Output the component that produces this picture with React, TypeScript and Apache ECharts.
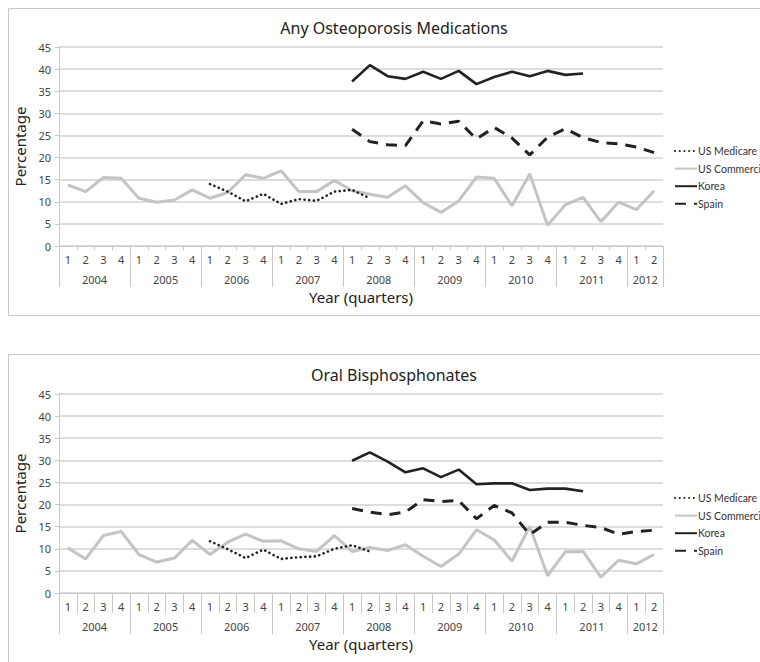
import React, { useEffect, useRef } from "react";
import * as echarts from "echarts";

const quarterLabels = [
  "1", "2", "3", "4", "1", "2", "3", "4", "1", "2", "3", "4",
  "1", "2", "3", "4", "1", "2", "3", "4", "1", "2", "3", "4",
  "1", "2", "3", "4", "1", "2", "3", "4", "1", "2",
];
const yearLabels = ["2004", "2005", "2006", "2007", "2008", "2009", "2010", "2011", "2012"];
const yearCenters = [2, 6, 10, 14, 18, 22, 26, 30, 33];
const yearBounds = [0, 4, 8, 12, 16, 20, 24, 28, 32, 34];

const seriesNames = ["US Medicare", "US Commercial", "Korea", "Spain"];
const panelTitles = ["Any Osteoporosis Medications", "Oral Bisphosphonates"];

const N = null;
// Any osteoporosis medications
const anyMedicare = [
  N, N, N, N, N, N, N, N,
  14.0, 12.3, 10.1, 11.8, 9.5, 10.6, 10.2, 12.3, 12.7, 10.8,
  N, N, N, N, N, N, N, N, N, N, N, N, N, N, N, N,
];
const anyCommercial = [
  13.8, 12.3, 15.5, 15.3, 10.8, 9.9, 10.4, 12.7, 10.8, 12.1, 16.1, 15.3,
  17.0, 12.3, 12.3, 14.8, 12.5, 11.7, 11.0, 13.6, 9.8, 7.6, 10.2, 15.6,
  15.3, 9.1, 16.3, 4.7, 9.3, 11.0, 5.5, 9.9, 8.2, 12.5,
];
const anyKorea = [
  N, N, N, N, N, N, N, N, N, N, N, N, N, N, N, N,
  37.2, 40.9, 38.4, 37.8, 39.4, 37.8, 39.6, 36.6, 38.2, 39.4, 38.4, 39.6, 38.7, 39.0,
  N, N, N, N,
];
const anySpain = [
  N, N, N, N, N, N, N, N, N, N, N, N, N, N, N, N,
  26.4, 23.6, 22.9, 22.7, 28.3, 27.6, 28.2, 24.2, 26.8, 24.4, 20.6, 24.6,
  26.5, 24.5, 23.4, 23.1, 22.4, 21.1,
];
// Oral bisphosphonates
const oralMedicare = [
  N, N, N, N, N, N, N, N,
  11.7, 9.9, 7.9, 9.8, 7.7, 8.1, 8.3, 10.0, 10.8, 9.4,
  N, N, N, N, N, N, N, N, N, N, N, N, N, N, N, N,
];
const oralCommercial = [
  10.2, 7.7, 13.0, 13.9, 8.7, 7.0, 7.9, 11.9, 8.7, 11.5, 13.3, 11.7,
  11.8, 10.0, 9.4, 13.0, 9.4, 10.3, 9.6, 10.9, 8.3, 6.0, 8.8, 14.3,
  12.0, 7.2, 15.1, 3.9, 9.3, 9.4, 3.6, 7.4, 6.6, 8.7,
];
const oralKorea = [
  N, N, N, N, N, N, N, N, N, N, N, N, N, N, N, N,
  29.9, 31.8, 29.7, 27.3, 28.2, 26.2, 27.9, 24.6, 24.8, 24.8, 23.3, 23.6, 23.6, 23.0,
  N, N, N, N,
];
const oralSpain = [
  N, N, N, N, N, N, N, N, N, N, N, N, N, N, N, N,
  19.1, 18.3, 17.7, 18.3, 21.1, 20.7, 20.9, 16.8, 19.8, 18.1, 13.2, 16.0,
  16.0, 15.3, 14.8, 13.3, 13.9, 14.2,
];

const FONT = "'Noto Sans', sans-serif";
const LEGEND_FONT = "Lato, sans-serif";
const GRID_LEFT = 59;
const GRID_W = 604;
const gridTops = [47, 394];
const GRID_H = 199;
const quarterTickLen = [4, 20];

function seriesStyles(i: number) {
  const black = "#222";
  switch (i) {
    case 0:
      return { color: black, lineStyle: { color: black, width: 2.6, type: [0.1, 4.6], cap: "round" as const } };
    case 1:
      return { color: "#c4c4c4", lineStyle: { color: "#c4c4c4", width: 3, type: "solid" as const } };
    case 2:
      return { color: black, lineStyle: { color: black, width: 2.6, type: "solid" as const } };
    default:
      return { color: black, lineStyle: { color: black, width: 3, type: [11, 8] } };
  }
}

export default function App() {
  const ref = useRef<HTMLDivElement>(null);
  useEffect(() => {
    if (!ref.current) return;
    const chart = echarts.init(ref.current, undefined, { renderer: "svg" });
    const panels = [
      [anyMedicare, anyCommercial, anyKorea, anySpain],
      [oralMedicare, oralCommercial, oralKorea, oralSpain],
    ];
    const grids = gridTops.map((t) => ({ left: GRID_LEFT, top: t, width: GRID_W, height: GRID_H }));
    const xAxes: any[] = [];
    const yAxes: any[] = [];
    const series: any[] = [];
    gridTops.forEach((_, p) => {
      xAxes.push({
        type: "category",
        gridIndex: p,
        data: quarterLabels,
        boundaryGap: true,
        axisLine: { show: true, lineStyle: { color: "#c8c8c8", width: 1 } },
        axisTick: { show: true, interval: 0, length: quarterTickLen[p], lineStyle: { color: "#c8c8c8" } },
        axisLabel: { interval: 0, color: "#444", fontSize: 11, fontFamily: FONT, margin: 8 },
        splitLine: { show: false },
      });
      xAxes.push({
        type: "value",
        gridIndex: p,
        min: 0,
        max: 34,
        position: "bottom",
        axisLine: { show: false },
        axisTick: { show: true, customValues: yearBounds, length: 41, lineStyle: { color: "#c8c8c8" } },
        axisLabel: {
          show: true,
          customValues: yearCenters,
          margin: 28,
          color: "#444",
          fontSize: 11,
          fontFamily: FONT,
          formatter: (v: number) => yearLabels[Math.floor(v / 4)],
        },
        splitLine: { show: false },
        name: "Year (quarters)",
        nameLocation: "middle",
        nameGap: 43,
        nameTextStyle: { color: "#222", fontSize: 15, fontFamily: FONT },
      });
      yAxes.push({
        type: "value",
        gridIndex: p,
        min: 0,
        max: 45,
        interval: 5,
        axisLine: { show: true, lineStyle: { color: "#c8c8c8" } },
        axisTick: { show: true, length: 4, lineStyle: { color: "#c8c8c8" } },
        axisLabel: { color: "#444", fontSize: 11, fontFamily: FONT, margin: 8 },
        splitLine: { show: true, lineStyle: { color: "#d2d2d2", width: 1.5 } },
        name: "Percentage",
        nameLocation: "middle",
        nameGap: 31,
        nameTextStyle: { color: "#222", fontSize: 15, fontFamily: FONT },
      });
      panels[p].forEach((data, i) => {
        series.push({
          type: "line",
          name: seriesNames[i],
          xAxisIndex: p * 2,
          yAxisIndex: p,
          data,
          symbol: "none",
          showSymbol: false,
          connectNulls: false,
          z: i === 1 ? 2 : 3,
          ...seriesStyles(i),
        });
      });
    });
    const legendTops = [145, 492];
    chart.setOption({
      animation: false,
      title: panelTitles.map((t, p) => ({
        text: t,
        left: 389,
        textAlign: "center",
        top: p === 0 ? 15 : 362,
        textStyle: { color: "#222", fontSize: 16, fontWeight: "normal", fontFamily: FONT },
      })),
      grid: grids,
      xAxis: xAxes,
      yAxis: yAxes,
      legend: legendTops.map((t) => ({
        orient: "vertical",
        left: 674,
        top: t,
        padding: 0,
        itemWidth: 22,
        itemHeight: 12,
        itemGap: 5.6,
        itemStyle: { opacity: 0 },
        data: seriesNames,
        textStyle: { color: "#333", fontSize: 10.5, fontFamily: LEGEND_FONT, lineHeight: 12, padding: [0, 0, 0, -4] },
        selectedMode: false,
      })),
      graphic: [
        { type: "rect", shape: { x: 8.5, y: 8.5, width: 800, height: 307 }, style: { fill: "none", stroke: "#c8c8c8", lineWidth: 1 }, silent: true },
        { type: "rect", shape: { x: 8.5, y: 354.5, width: 800, height: 400 }, style: { fill: "none", stroke: "#c8c8c8", lineWidth: 1 }, silent: true },
      ],
      series,
    });
    return () => chart.dispose();
  }, []);
  return (
    <div
      ref={ref}
      style={{ position: "fixed", left: 0, top: 0, width: 760, height: 662, background: "#fff" }}
    />
  );
}
